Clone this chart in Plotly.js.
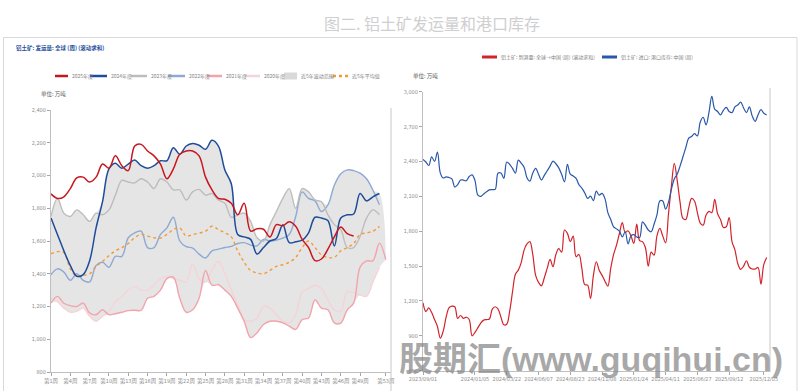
<!DOCTYPE html>
<html><head><meta charset="utf-8">
<script src="https://cdn.plot.ly/plotly-3.0.1.min.js"></script>
<style>html,body{margin:0;padding:0;background:#fff;}#chart{width:801px;height:391px;}</style>
</head><body><div id="chart"></div>
<script>
// ---------- Left chart: global bauxite shipments (weekly, rolling sum), 万吨 ----------
const weekLabels = ['第1周','第4周','第7周','第10周','第13周','第16周','第19周','第22周','第25周','第28周','第31周','第34周','第37周','第40周','第43周','第46周','第49周','第53周'];
const weekTicks = [1,4,7,10,13,16,19,22,25,28,31,34,37,40,43,46,49,53];

const y2025 = [1888,1860,1870,1920,1985,1990,1960,1990,2070,2045,2120,2060,2030,2180,2190,2150,2120,2070,1980,2040,2130,2150,2150,2120,1990,1912,1860,1855,1830,1760,1830,1660,1675,1672,1625,1700,1693,1718,1690,1610,1560,1480,1490,1550,1625,1685,1645,1630];
const y2024 = [1740,1640,1540,1450,1385,1395,1480,1680,1840,2040,2075,2045,2070,2095,2060,2045,2060,2090,2090,2170,2130,2180,2195,2185,2160,2215,2180,2034,1950,1640,1625,1610,1520,1560,1600,1615,1700,1590,1595,1605,1650,1745,1740,1725,1570,1740,1760,1765,1890,1845,1870,1890];
const y2023 = [1750,1860,1770,1750,1790,1760,1720,1770,1760,1790,1880,1970,1960,1955,1980,1960,1920,1980,1960,1912,1912,1850,1900,1915,1880,1890,1850,1830,1745,1760,1770,1720,1620,1600,1700,1780,1860,1920,1800,1920,1900,1851,1840,1760,1700,1670,1560,1560,1628,1740,1790,1760];
const y2022 = [1394,1430,1410,1360,1400,1360,1350,1450,1470,1440,1506,1506,1620,1650,1660,1560,1560,1640,1680,1745,1600,1565,1557,1520,1496,1540,1550,1560,1567,1585,1590,1575,1570,1610,1600,1605,1617,1640,1750,1900,1860,1845,1780,1820,1940,2010,2034,2030,2014,1980,1910,1821];
const y2021 = [1221,1262,1220,1205,1200,1221,1160,1150,1180,1150,1156,1165,1175,1177,1177,1250,1262,1300,1370,1380,1250,1165,1180,1250,1420,1330,1333,1300,1262,1190,1110,1010,1040,1090,1110,1110,1100,1080,1060,1120,1130,1240,1190,1180,1100,1099,1180,1221,1440,1478,1480,1587,1486];
const y2020 = [1250,1230,1190,1165,1170,1190,1140,1110,1140,1170,1230,1260,1300,1320,1300,1300,1330,1370,1384,1370,1360,1350,1460,1370,1350,1420,1475,1400,1300,1210,1120,1110,1130,1200,1190,1150,1110,1100,1150,1290,1310,1330,1310,1240,1180,1170,1290,1285,1270,1262,1350,1440];
const avg5 = [1522,1535,1530,1430,1385,1390,1400,1445,1475,1510,1540,1560,1585,1620,1640,1630,1620,1618,1640,1670,1680,1630,1640,1648,1660,1690,1670,1650,1625,1540,1470,1420,1405,1400,1420,1445,1455,1470,1500,1560,1600,1560,1515,1500,1500,1540,1560,1585,1640,1650,1660,1689];

// ---------- Right chart: arrivals to China vs port inventory, 万吨 ----------
const rightStart = '2023-09-01';
const arrivals = [1184,1110,1140,1100,1040,980,880,940,1060,1140,1155,1150,1050,1075,1050,1060,1040,900,930,970,1010,1035,1040,1045,1130,1150,1130,1060,995,1000,1110,1280,1430,1465,1530,1637,1690,1710,1600,1420,1360,1330,1400,1480,1557,1494,1600,1650,1620,1810,1781,1710,1758,1580,1600,1480,1340,1336,1221,1420,1537,1465,1420,1370,1327,1480,1600,1680,1780,1873,1790,1804,1760,1695,1861,1718,1710,1660,1500,1620,1594,1760,1824,1760,1700,1950,2188,2383,2240,2050,1910,1901,2000,2082,2060,1960,1870,1852,1940,1970,1960,2073,1950,1900,1832,1838,1918,1709,1640,1520,1471,1500,1546,1490,1475,1475,1488,1344,1514,1574];
const inventory = [2418,2395,2365,2440,2400,2480,2300,2258,2268,2262,2250,2180,2200,2240,2240,2234,2270,2285,2235,2110,2100,2120,2140,2155,2158,2160,2300,2300,2255,2395,2375,2340,2300,2412,2385,2350,2260,2230,2300,2340,2290,2240,2280,2320,2360,2403,2380,2345,2290,2225,2375,2290,2275,2255,2200,2170,2130,2082,2102,2062,2145,2110,2125,2080,1960,1900,1838,1820,1800,1752,1795,1690,1760,1770,1750,1745,1880,1850,1810,1795,1860,1940,2060,2060,1990,2050,2160,2250,2290,2360,2440,2520,2600,2615,2640,2620,2740,2780,2715,2820,2960,2850,2830,2800,2840,2865,2830,2820,2870,2885,2910,2860,2820,2870,2790,2745,2800,2845,2815,2800];
const dateTicks = ['2023-09-01','2024-01-05','2024-03-22','2024-06-07','2024-08-23','2024-11-08','2025-01-24','2025-04-11','2025-06-27','2025-09-12','2025-12-05'];
const dateLabels = ['2023/09/01','2024/01/05','2024/03/22','2024/06/07','2024/08/23','2024/11/08','2025/01/24','2025/04/11','2025/06/27','2025/09/12','2025/12/05'];

// ---------- helpers ----------
const W = 801, H = 391;
const px = x => x / W, py = y => 1 - y / H;
const weeksOf = n => Array.from({length: n}, (_, i) => i + 1);
function weekly(start, n) {
  const d0 = new Date(start + 'T00:00:00Z'); const out = [];
  for (let i = 0; i < n; i++) out.push(new Date(d0.getTime() + i * 7 * 86400000).toISOString().slice(0, 10));
  return out;
}
const weeks53 = weeksOf(53);
const five = [y2020, y2021, y2022, y2023, y2024];
const bandMax = weeks53.map((w, i) => { const v = five.map(s => s[i]).filter(v => v != null); return v.length ? Math.max(...v) : null; });
const bandMin = weeks53.map((w, i) => { const v = five.map(s => s[i]).filter(v => v != null); return v.length ? Math.min(...v) : null; });
const rDates = weekly(rightStart, arrivals.length);

const C = {c25:'#c8161e', c24:'#1e4c9a', c23:'#bdbdbd', c22:'#8eaad3', c21:'#f2a3ab', c20:'#f6d3d7', band:'#e5e5e5', avg:'#f39a35', red:'#d2232b', blue:'#2a58a8'};
const FT = 'Liberation Sans Narrow, DejaVu Sans Condensed, Liberation Sans, Noto Sans CJK SC, sans-serif';
const CJK = 'Liberation Sans Narrow, Noto Sans CJK SC, sans-serif';

function L(x, y, color, width, dash, xa, ya) {
  return {x: x, y: y, type: 'scatter', mode: 'lines', xaxis: xa || 'x', yaxis: ya || 'y', hoverinfo: 'skip', showlegend: false,
          line: {color: color, width: width, dash: dash || 'solid', shape: 'spline', smoothing: 1}};
}
const traces = [
  L(weeks53, bandMin, C.band, 0),
  Object.assign(L(weeks53, bandMax, C.band, 0), {fill: 'tonexty', fillcolor: C.band}),
  L(weeks53, y2020, C.c20, 1.4),
  L(weeks53, y2021, C.c21, 1.4),
  L(weeks53, y2022, C.c22, 1.4),
  L(weeks53, y2023, C.c23, 1.4),
  L(weeks53, avg5, C.avg, 1.4, 'dot'),
  L(weeks53, y2024, C.c24, 1.5),
  L(weeks53, y2025, C.c25, 1.5),
  L(rDates, arrivals, C.red, 1.2, null, 'x2', 'y2'),
  L(rDates, inventory, C.blue, 1.2, null, 'x2', 'y2')
];

const axBase = {showgrid: false, zeroline: false, showline: true, linecolor: '#bfbfbf', linewidth: 1,
                ticks: 'outside', ticklen: 3, tickwidth: 1, tickcolor: '#a6a6a6', tickangle: 0,
                tickfont: {size: 5.5, color: '#8c8c8c', family: FT}, fixedrange: true};

const shapes = [];
const ann = [];
function hline(x0, x1, y, color, width, dash) { shapes.push({type: 'line', xref: 'paper', yref: 'paper', x0: px(x0), x1: px(x1), y0: py(y), y1: py(y), line: {color: color, width: width, dash: dash || 'solid'}}); }
function vline(x, y0, y1, color, width) { shapes.push({type: 'line', xref: 'paper', yref: 'paper', x0: px(x), x1: px(x), y0: py(y0), y1: py(y1), line: {color: color, width: width}}); }
function text(x, y, t, size, color, anchor, family) {
  ann.push({xref: 'paper', yref: 'paper', x: px(x), y: py(y), text: t, showarrow: false, xanchor: anchor || 'left', yanchor: 'middle',
            font: {size: size, color: color, family: family || CJK}});
}

// frame & dividers
hline(3, 797, 37.5, '#d9d9d9', 1);
vline(3.5, 37.5, 391, '#d9d9d9', 1);
vline(797, 37.5, 391, '#d9d9d9', 1);
vline(391, 108, 391, '#c8c8c8', 1);
vline(770, 88, 372, '#c8c8c8', 1);

// titles
text(432, 23.5, '图二. 铝土矿发运量和港口库存', 16, '#cfcfcf', 'center', 'Noto Sans CJK SC, sans-serif');
text(14, 48, '<b>铝土矿: 发运量: 全球 (周) (滚动求和)</b>', 5.5, '#1f4e9c');
text(39, 94, '单位: 万吨', 5.5, '#595959');
text(411, 76, '单位: 万吨', 5.5, '#595959');

// left legend (y = 76)
const legItems = [
  [55, 68, 70, '2025年度', C.c25], [90, 107, 108.5, '2024年度', C.c24], [131, 147, 149, '2023年度', C.c23],
  [168, 185, 187, '2022年度', C.c22], [207, 222, 224, '2021年度', C.c21], [245, 260, 262, '2020年度', C.c20]
];
legItems.forEach(it => { hline(it[0], it[1], 76, it[4], 2.5); text(it[2], 76, it[3], 5, '#7f7f7f'); });
shapes.push({type: 'rect', xref: 'paper', yref: 'paper', x0: px(284), x1: px(297), y0: py(79.5), y1: py(72.5), fillcolor: '#d9d9d9', line: {width: 0}});
text(299, 76, '近5年波动范围', 5, '#7f7f7f');
hline(333, 348, 76, C.avg, 2.5, 'dot');
text(350, 76, '近5年平均值', 5, '#7f7f7f');

// right legend (y = 57)
hline(482, 497, 57, C.red, 3);
text(499, 57, '铝土矿: 到港量: 全球→中国 (周) (滚动求和)', 5, '#7f7f7f');
hline(602, 617, 57, C.blue, 3);
text(619, 57, '铝土矿: 进口: 港口库存: 中国 (周)', 5, '#7f7f7f');

// watermark
ann.push({xref: 'paper', yref: 'paper', x: px(591), y: py(359), text: '<b>股期汇(www.guqihui.cn)</b>', showarrow: false,
          xanchor: 'center', yanchor: 'middle', font: {size: 34, color: 'rgba(135,135,135,0.72)', family: 'Liberation Sans, Noto Sans CJK SC, sans-serif'}});

const layout = {
  width: W, height: H, margin: {l: 0, r: 0, t: 0, b: 0}, paper_bgcolor: '#fff', plot_bgcolor: 'rgba(0,0,0,0)', showlegend: false,
  xaxis: Object.assign({}, axBase, {domain: [px(51), px(391)], range: [1, 53.8], tickmode: 'array', tickvals: weekTicks, ticktext: weekLabels, anchor: 'y'}),
  yaxis: Object.assign({}, axBase, {domain: [py(372), py(110)], range: [800, 2400], tickmode: 'array', tickvals: [800,1000,1200,1400,1600,1800,2000,2200,2400], tickformat: ',d', anchor: 'x'}),
  xaxis2: Object.assign({}, axBase, {type: 'date', domain: [px(423), px(770)], range: ['2023-09-01', '2025-12-20'], tickmode: 'array', tickvals: dateTicks, ticktext: dateLabels, anchor: 'y2'}),
  yaxis2: Object.assign({}, axBase, {domain: [py(370.7), py(91.7)], range: [600, 3000], tickmode: 'array', tickvals: [600,900,1200,1500,1800,2100,2400,2700,3000], tickformat: ',d', anchor: 'x2'}),
  shapes: shapes, annotations: ann
};
Plotly.newPlot('chart', traces, layout, {staticPlot: true, displayModeBar: false});
</script></body></html>
